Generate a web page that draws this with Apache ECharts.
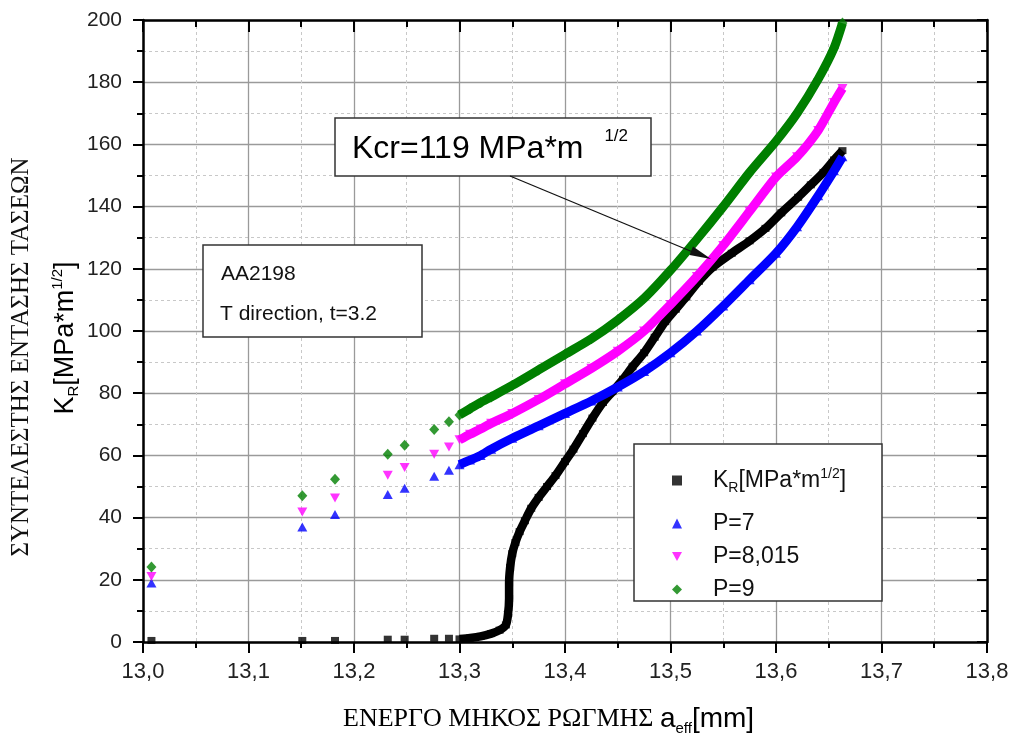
<!DOCTYPE html>
<html>
<head>
<meta charset="utf-8">
<script src="https://cdn.jsdelivr.net/npm/echarts@6/dist/echarts.min.js"></script>
<style>
html,body{margin:0;padding:0;background:#fff;}
#chart{width:1013px;height:742px;}
</style>
</head>
<body>
<div id="chart"></div>
<script>
// ---------- data ----------
// isolated early points (all four series share these crack lengths)
const aEffSparse = [13.008, 13.151, 13.182, 13.232, 13.248, 13.276, 13.290];
const krSparse   = [0.5, 0.5, 0.5, 0.9, 0.9, 1.2, 1.2];
const p7Sparse   = [19.0, 37.0, 41.0, 47.4, 49.4, 53.3, 55.2];
const p8Sparse   = [21.1, 41.8, 46.3, 53.6, 56.1, 60.4, 62.7];
const p9Sparse   = [24.1, 47.0, 52.3, 60.4, 63.3, 68.3, 70.8];

// dense part of the R-curve (K_R)
const krDenseX = [13.300, 13.310, 13.320, 13.330, 13.338, 13.344, 13.346, 13.347, 13.347, 13.348,
                  13.350, 13.353, 13.357, 13.362, 13.368, 13.375, 13.383, 13.391, 13.400, 13.408,
                  13.417, 13.426, 13.436, 13.445, 13.455, 13.464, 13.475, 13.485, 13.495, 13.505,
                  13.515, 13.527, 13.540, 13.558, 13.575, 13.590, 13.605, 13.621, 13.633, 13.645,
                  13.655, 13.663];
const krDense  = [1.0, 1.3, 1.8, 2.7, 3.8, 5.5, 9, 14, 19, 24,
                  28.4, 32, 35.5, 39, 43, 46.5, 50, 53.5, 58, 62,
                  67, 72, 77, 80.5, 84.5, 88.5, 93, 98, 103, 107,
                  111, 116, 120.5, 125, 129, 133, 138, 143, 147, 151,
                  155, 158];

// dense part of the three crack-driving-force curves
const pDenseX = [13.300, 13.310, 13.320, 13.330, 13.350, 13.375, 13.400, 13.425, 13.450, 13.475,
                 13.500, 13.525, 13.550, 13.575, 13.600, 13.620, 13.640, 13.655, 13.663];
const p7Dense = [57, 58.5, 60, 62, 65.5, 69.5, 73.5, 77.5, 82, 87,
                 93, 100, 108, 116.5, 125, 133.5, 143.5, 151.5, 156];
const p8Dense = [65, 66.8, 68.5, 70.3, 73.5, 78, 83, 88, 93.5, 100,
                 108.5, 117.5, 127.5, 138.5, 149.5, 156, 164.5, 173.5, 178];
const p9Dense = [73, 75, 77, 78.8, 82.5, 87.5, 92.5, 97.5, 103.5, 110.5,
                 119.5, 129.5, 140, 151, 161, 170, 181, 191, 199];

const xTicks = { min: 13.0, max: 13.8, step: 0.1 };
const yTicks = { min: 0, max: 200, step: 20 };

const seriesNames = ['KR', 'P=7', 'P=8,015', 'P=9'];
const seriesColors = ['#000000', '#0000ff', '#ff00ff', '#007f00'];

// ---------- build ----------
function pairs(xs, ys) { return xs.map((x, i) => [x, ys[i]]); }

const SANS = '"Liberation Sans", Arial, sans-serif';
const SERIF = '"Liberation Serif", "Times New Roman", serif';

const markerDefs = [
  { symbol: 'rect', size: [8, 7], rotate: 0, icon: 'rect' },
  { symbol: 'triangle', size: [10, 9], rotate: 0, icon: 'triangle' },
  { symbol: 'triangle', size: [10, 9], rotate: 180, icon: 'path://M0,0L10,0L5,9Z' },
  { symbol: 'diamond', size: [10, 11], rotate: 0, icon: 'diamond' }
];
const sparseSets = [krSparse, p7Sparse, p8Sparse, p9Sparse];
const denseSets = [pairs(krDenseX, krDense), pairs(pDenseX, p7Dense), pairs(pDenseX, p8Dense), pairs(pDenseX, p9Dense)];
const bandWidths = [8.5, 9, 9, 9];

const series = [];
seriesNames.forEach((name, k) => {
  series.push({
    name: name, type: 'scatter',
    symbol: markerDefs[k].symbol, symbolSize: markerDefs[k].size, symbolRotate: markerDefs[k].rotate,
    itemStyle: { color: seriesColors[k] },
    data: pairs(aEffSparse, sparseSets[k]).concat(denseSets[k]),
    clip: true, animation: false
  });
  series.push({
    name: name, type: 'line', showSymbol: false, symbol: 'none', silent: true, smooth: 0.25,
    lineStyle: { color: seriesColors[k], width: bandWidths[k] },
    data: denseSets[k], clip: true, animation: false
  });
});

const legendRich = {
  g: { width: 26 },
  t: { fontSize: 23, fontFamily: SANS, color: '#111' },
  s: { fontSize: 14, fontFamily: SANS, color: '#111', padding: [15, 0, 0, 0] },
  p: { fontSize: 14, fontFamily: SANS, color: '#111', padding: [0, 0, 13, 0] }
};
const legendRows = [472, 517, 550, 583];
const legends = seriesNames.map((name, k) => ({
  data: [{ name: name, icon: markerDefs[k].icon }],
  left: 672, top: legendRows[k] - 5,
  itemWidth: 10, itemHeight: 10,
  selectedMode: true, padding: 0,
  formatter: function (n) {
    if (n === 'KR') return '{g|}{t|K}{s|R}{t|[MPa*m}{p|1/2}{t|]}';
    return '{g|}{t|' + n + '}';
  },
  textStyle: { rich: legendRich }
}));

const axisCommon = {
  type: 'value',
  axisLine: { show: true, onZero: false, lineStyle: { color: '#000', width: 2.5 } },
};

const option = {
  animation: false,
  backgroundColor: '#fff',
  grid: { left: 143, right: 26, top: 20, bottom: 100, containLabel: false },
  xAxis: [
    Object.assign({}, axisCommon, {
      position: 'bottom', min: xTicks.min, max: xTicks.max, interval: xTicks.step,
      axisTick: { show: true, inside: false, length: 11, lineStyle: { color: '#000', width: 2 } },
      minorTick: { show: true, splitNumber: 2, length: 6, lineStyle: { color: '#000', width: 2 } },
      axisLabel: { fontSize: 22, fontFamily: SANS, color: '#222', margin: 19,
        formatter: v => v.toFixed(1).replace('.', ',') },
      splitLine: { show: true, lineStyle: { color: '#9a9a9a', width: 1.3 } },
      minorSplitLine: { show: true, lineStyle: { color: '#c8c8c8', width: 1, type: [3, 3] } }
    }),
    Object.assign({}, axisCommon, {
      position: 'top', min: xTicks.min, max: xTicks.max, interval: xTicks.step,
      axisTick: { show: true, inside: true, length: 12, lineStyle: { color: '#000', width: 2 } },
      minorTick: { show: true, splitNumber: 2, length: 7, lineStyle: { color: '#000', width: 2 } },
      axisLabel: { show: false }, splitLine: { show: false }
    })
  ],
  yAxis: [
    Object.assign({}, axisCommon, {
      position: 'left', min: yTicks.min, max: yTicks.max, interval: yTicks.step,
      axisTick: { show: true, inside: false, length: 10, lineStyle: { color: '#000', width: 2 } },
      minorTick: { show: true, splitNumber: 2, length: 6, lineStyle: { color: '#000', width: 2 } },
      axisLabel: { fontSize: 21, fontFamily: SANS, color: '#222', margin: 21 },
      splitLine: { show: true, lineStyle: { color: '#9a9a9a', width: 1.3 } },
      minorSplitLine: { show: true, lineStyle: { color: '#c8c8c8', width: 1, type: [3, 3] } }
    }),
    Object.assign({}, axisCommon, {
      position: 'right', min: yTicks.min, max: yTicks.max, interval: yTicks.step,
      axisTick: { show: true, inside: true, length: 10, lineStyle: { color: '#000', width: 2 } },
      minorTick: { show: true, splitNumber: 2, length: 6, lineStyle: { color: '#000', width: 2 } },
      axisLabel: { show: false }, splitLine: { show: false }
    })
  ],
  legend: legends,
  series: series,
  graphic: [
    // legend frame
    { type: 'rect', z: 3, shape: { x: 634, y: 444, width: 248, height: 157 },
      style: { fill: '#fff', stroke: '#333', lineWidth: 1.5 } },
    // material box
    { type: 'rect', z: 3, shape: { x: 203, y: 245, width: 219, height: 92 },
      style: { fill: '#fff', stroke: '#333', lineWidth: 1.5 } },
    { type: 'text', z: 5, x: 221, y: 274,
      style: { text: 'AA2198', fontSize: 21, fontFamily: SANS, fill: '#111', align: 'left', verticalAlign: 'middle' } },
    { type: 'text', z: 5, x: 220, y: 314,
      style: { text: 'T direction, t=3.2', fontSize: 21, fontFamily: SANS, fill: '#111', align: 'left', verticalAlign: 'middle' } },
    // Kcr box
    { type: 'rect', z: 3, shape: { x: 335, y: 118, width: 316, height: 58 },
      style: { fill: '#fff', stroke: '#333', lineWidth: 1.5 } },
    { type: 'text', z: 5, x: 352, y: 149,
      style: { text: '{a|Kcr=119 MPa*m }{b|1/2}', align: 'left', verticalAlign: 'middle',
        rich: { a: { fontSize: 32, fontFamily: SANS, color: '#111' },
                b: { fontSize: 17, fontFamily: SANS, color: '#111', padding: [0, 0, 26, 12] } } } },
    // arrow
    { type: 'line', z: 5, shape: { x1: 510, y1: 176, x2: 700, y2: 255 },
      style: { stroke: '#111', lineWidth: 1.3 } },
    { type: 'polygon', z: 5, shape: { points: [[711, 259], [693, 246.5], [689.5, 255]] },
      style: { fill: '#111' } },
    // x axis title
    { type: 'text', z: 5, x: 343, y: 719,
      style: { text: '{g|ΕΝΕΡΓΟ ΜΗΚΟΣ ΡΩΓΜΗΣ }{a|a}{s|eff}{a|[mm]}', align: 'left', verticalAlign: 'middle',
        rich: { g: { fontSize: 26, fontFamily: SERIF, color: '#111' },
                a: { fontSize: 28, fontFamily: SANS, color: '#111' },
                s: { fontSize: 15, fontFamily: SANS, color: '#111', padding: [20, 0, 0, 0] } } } },
    // y axis titles
    { type: 'text', z: 5, x: 21, y: 357, rotation: Math.PI / 2,
      style: { text: 'ΣΥΝΤΕΛΕΣΤΗΣ ΕΝΤΑΣΗΣ ΤΑΣΕΩΝ', fontSize: 25, fontFamily: SERIF, fill: '#111',
        align: 'center', verticalAlign: 'middle' } },
    { type: 'text', z: 5, x: 66, y: 338, rotation: Math.PI / 2,
      style: { text: '{t|K}{s|R}{t|[MPa*m}{p|1/2}{t|]}', align: 'center', verticalAlign: 'middle',
        rich: { t: { fontSize: 27, fontFamily: SANS, color: '#111' },
                s: { fontSize: 15, fontFamily: SANS, color: '#111', padding: [16, 0, 0, 0] },
                p: { fontSize: 15, fontFamily: SANS, color: '#111', padding: [0, 0, 16, 0] } } } }
  ]
};

const chart = echarts.init(document.getElementById('chart'), null, { renderer: 'canvas' });
chart.setOption(option);
</script>
</body>
</html>
